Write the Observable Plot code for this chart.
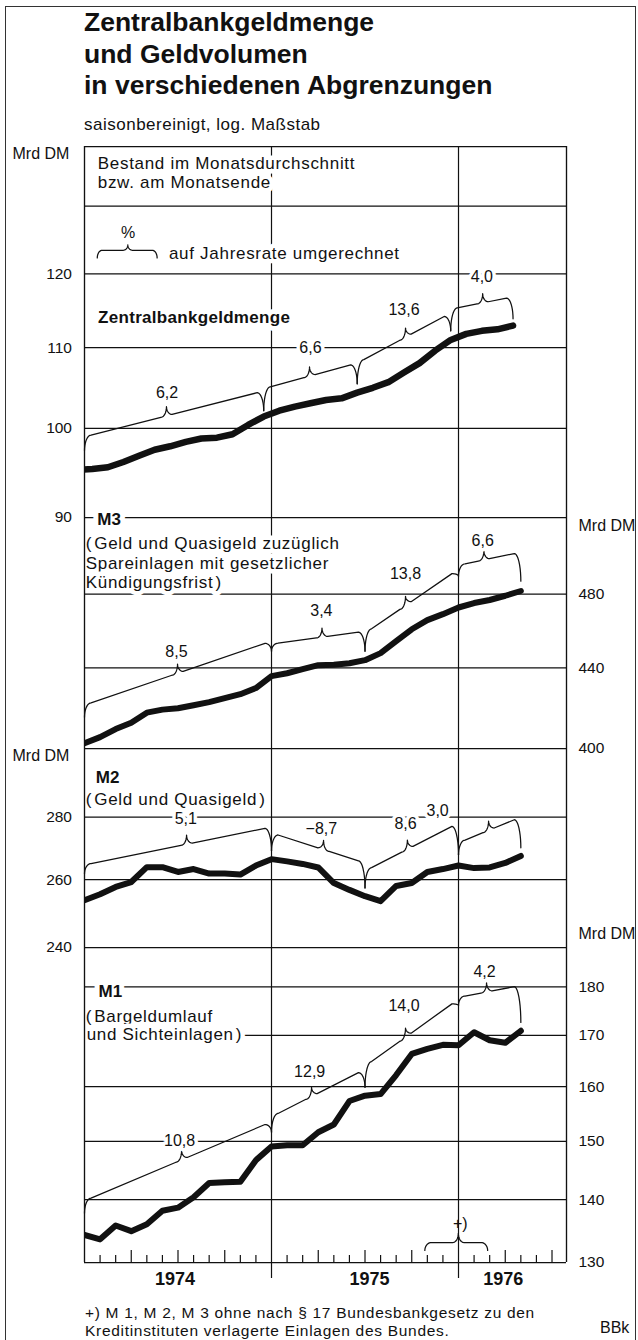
<!DOCTYPE html>
<html><head><meta charset="utf-8">
<script src="https://cdn.jsdelivr.net/npm/d3@7"></script>
<script src="https://cdn.jsdelivr.net/npm/@observablehq/plot@0.6"></script>
<style>
html,body{margin:0;padding:0;background:#fff;}
#wrap{position:relative;width:638px;height:1340px;overflow:hidden;font-family:"Liberation Sans",Arial,Helvetica,sans-serif;color:#111;}
#frame{position:absolute;left:5px;top:6px;width:629px;height:1400px;border-left:1.5px solid #333;border-top:1.5px solid #333;border-right:1.5px solid #333;}
.txt{position:absolute;white-space:nowrap;}
#title{left:84px;top:7px;font-weight:bold;font-size:26.5px;line-height:31.7px;}
#subtitle{left:84px;top:115px;font-size:17px;line-height:20px;letter-spacing:0.5px;}
#foot{left:85px;top:1304px;font-size:15.5px;line-height:18.4px;letter-spacing:0.7px;}
#bbk{left:600px;top:1319px;font-size:16px;line-height:18px;}
</style></head>
<body>
<div id="wrap">
  <div id="frame"></div>
  <div id="title" class="txt">Zentralbankgeldmenge<br>und Geldvolumen<br>in verschiedenen Abgrenzungen</div>
  <div id="subtitle" class="txt">saisonbereinigt, log. Maßstab</div>
  <div id="foot" class="txt">+) M 1, M 2, M 3 ohne nach § 17 Bundesbankgesetz zu den<br>Kreditinstituten verlagerte Einlagen des Bundes.</div>
  <div id="bbk" class="txt">BBk</div>
</div>
<script>
// ---------------- data (Mrd DM), Dec 1973 .. Apr 1976 ----------------
const months = d3.utcMonths(new Date(Date.UTC(1973, 11, 1)), new Date(Date.UTC(1976, 4, 1))).map(d3.utcFormat("%Y-%m"));
// Zentralbankgeldmenge: monthly averages (plotted mid-month)
const zbg = [95.2, 95.3, 95.5, 96.1, 96.8, 97.5, 97.9, 98.4, 98.8, 98.9, 99.3, 100.4, 101.4,
             102.1, 102.6, 103.0, 103.4, 103.6, 104.3, 104.9, 105.6, 106.8, 108.0, 109.6, 111.0,
             111.8, 112.2, 112.4, 112.9];
// M3, M2, M1: month-end stocks
const m3 = [402.5, 405.4, 409.3, 412.4, 417.3, 418.8, 419.5, 421.0, 422.5, 424.5, 426.5, 429.6, 435.7,
            437.2, 439.3, 441.4, 441.6, 442.4, 444.0, 447.7, 454.1, 460.5, 465.5, 468.8, 472.5,
            475.0, 476.7, 479.1, 481.8];
const m2 = [253.8, 255.6, 257.8, 259.3, 263.9, 263.9, 262.4, 263.3, 261.9, 261.9, 261.6, 264.4, 266.4,
            265.7, 264.9, 263.8, 259.0, 256.9, 255.0, 253.5, 258.1, 259.0, 262.4, 263.3, 264.4,
            263.6, 263.8, 265.2, 267.4];
const m1 = [134.3, 133.6, 135.8, 134.9, 136.0, 138.2, 138.7, 140.4, 142.8, 142.9, 143.0, 146.7, 149.1,
            149.3, 149.3, 151.6, 153.0, 157.3, 158.3, 158.6, 162.2, 166.3, 167.3, 168.1, 168.0,
            170.6, 169.0, 168.5, 170.9];
// growth periods and annualised rates (%)
const periods = ["1973-12", "1974-12", "1975-06", "1975-12", "1976-04"];
const zbgRates = ["6,2", "6,6", "13,6", "4,0"];
const m3Rates = ["8,5", "3,4", "13,8", "6,6"];
const m2Rates = ["5,1", "−8,7", "8,6", "3,0"];
const m1Rates = ["10,8", "12,9", "14,0", "4,2"];
// tick labels / grid values
const zbgTicks = [120, 110, 100, 90], zbgGrid = [130, 120, 110, 100, 90];
const m3Ticks = [480, 440, 400], m3Grid = [480, 440, 400];
const m2Ticks = [280, 260, 240], m2Grid = [280, 260, 240];
const m1Ticks = [180, 170, 160, 150, 140, 130], m1Grid = [180, 170, 160, 150, 140, 130];
const years = ["1974", "1975", "1976"];

// ---------------- annotation layout (data units) ----------------
// brace levels per period: [tip at start, line at start, line at end, tip at end, cusp month]
const zbgBraceLevels = [[97.4, 99.0, 104.5, 102.1, 5.26], [102.1, 104.8, 108.0, 105.4, 14.44],
                        [105.4, 108.0, 114.6, 112.2, 20.6], [112.2, 115.1, 116.8, 113.8, 25.55]];
const zbgLabelPos = [[5.3, 104.3], [14.5, 110], [20.5, 115.0], [25.5, 119.6]];
const m3BraceLevels = [[415.1, 421.0, 454.1, 448.7, 5.97], [448.7, 452.5, 459.4, 448.7, 15.24],
                       [448.7, 458.3, 494.4, 490.3, 20.6], [490.3, 496.7, 504.4, 487.4, 25.63]];
const m3LabelPos = [[5.9, 448.6], [15.2, 470.8], [20.6, 491.7], [25.55, 511.3]];
const m2BraceLevels = [[261.8, 264.6, 276.7, 269.0, 6.55], [269.0, 274.8, 265.2, 257.5, 15.34],
                       [257.5, 262.7, 278.0, 267.7, 20.72], [267.7, 271.6, 280.0, 270.0, 25.93]];
const m2LabelPos = [[6.5, 279.5], [15.2, 276.2], [20.6, 277.9], [22.66, 282.1]];
const m1BraceLevels = [[137.8, 139.8, 153.5, 151.6, 6.23], [151.6, 154.4, 163.3, 159.9, 14.57],
                       [159.9, 163.9, 177.4, 176.1, 20.6], [176.1, 177.8, 180.3, 172.6, 25.8]];
const m1LabelPos = [[6.1, 150], [14.45, 162.8], [20.5, 176.1], [25.67, 183.3]];

// ---------------- helpers ----------------
const INK = "#111";
const FONT = "Liberation Sans, Arial, Helvetica, sans-serif";
const X_END = 30.93;               // end of July 1976, months since Jan 1974
const DEC = 1950;                  // log-scale resolution used for small offsets
const pos = (ym, off) => { const [Y, M] = ym.split("-").map(Number); return (Y - 1974) * 12 + (M - 1) + off; };
const rows = (vals, off) => months.map((d, i) => ({m: pos(d, off), v: vals[i]}));
const L10 = Math.log10;

function bracePoints(id, m1_, m2_, t1, T1, T2, t2, mc, o = {}) {
  const w = o.w ?? 0.42, wc = o.wc ?? 0.36, ch = o.ch ?? 0.0047, n = 10, H = Math.PI / 2;
  const lt1 = L10(t1), lT1 = L10(T1), lT2 = L10(T2), lt2 = L10(t2);
  const main = m => lT1 + (lT2 - lT1) * (m - m1_) / (m2_ - m1_);
  const lc = main(mc) + ch;
  const p = [];
  for (let i = 0; i <= n; i++) { const a = i / n * H; p.push([m1_ + w * (1 - Math.cos(a)), lt1 + (main(m1_ + w) - lt1) * Math.sin(a)]); }
  for (let i = 0; i <= n; i++) { const a = i / n * H, l0 = main(mc - wc); p.push([mc - wc + wc * Math.sin(a), l0 + (lc - l0) * (1 - Math.cos(a))]); }
  for (let i = n; i >= 0; i--) { const a = i / n * H, l0 = main(mc + wc); p.push([mc + wc - wc * Math.sin(a), l0 + (lc - l0) * (1 - Math.cos(a))]); }
  for (let i = n; i >= 0; i--) { const a = i / n * H; p.push([m2_ - w * (1 - Math.cos(a)), lt2 + (main(m2_ - w) - lt2) * Math.sin(a)]); }
  return p.map(([m, l]) => ({id, m, v: 10 ** l}));
}
function seriesBraces(name, levels, off) {
  return levels.flatMap((b, i) => bracePoints(name + i, Math.max(0, pos(periods[i], off)), pos(periods[i + 1], off), b[0], b[1], b[2], b[3], b[4]));
}
function rateLabels(rates, lp) { return rates.map((t, i) => ({t, m: lp[i][0], v: lp[i][1]})); }

const halo = (w) => ({stroke: "white", strokeWidth: w, strokeLinejoin: "round", paintOrder: "stroke", fill: INK});
const grid = (g) => Plot.ruleY(g, {stroke: INK, strokeWidth: 1.25});
const sides = () => Plot.ruleX([0, X_END], {stroke: INK, strokeWidth: 1.35});
const braceMark = (data) => Plot.line(data, {x: "m", y: "v", z: "id", stroke: INK, strokeWidth: 1.25, strokeLinejoin: "round"});
const seriesMark = (data, sw) => Plot.line(data, {x: "m", y: "v", stroke: INK, strokeWidth: sw, strokeLinejoin: "round", clip: true});
const rateMark = (data) => Plot.text(data, {x: "m", y: "v", text: "t", fontSize: 16, ...halo(7)});
const leftTicks = (t) => Plot.text(t, {y: d => d, text: d => String(d), frameAnchor: "left", dx: -12.5, textAnchor: "end", fontSize: 15.5, fill: INK});
const rightTicks = (t) => Plot.text(t, {y: d => d, text: d => String(d), frameAnchor: "right", dx: 12, textAnchor: "start", fontSize: 15.5, fill: INK});
const unitLeft = (v) => Plot.text([v], {y: d => d, text: () => "Mrd DM", frameAnchor: "left", dx: -72, textAnchor: "start", fontSize: 16, fill: INK});
const unitRight = (v) => Plot.text([v], {y: d => d, text: () => "Mrd DM", frameAnchor: "right", dx: 12, textAnchor: "start", fontSize: 16, fill: INK});
const desc = (lines) => Plot.text(lines, {x: "m", y: "v", text: "t", textAnchor: "start", fontSize: 17, ...halo(9)});
const bold = (lines) => Plot.text(lines, {x: "m", y: "v", text: "t", textAnchor: "start", fontSize: 17, fontWeight: "bold", ...halo(10)});

// wide setting of the original typeface
const spaced = new Set();
const HS = "\u200A";
const wrap = document.getElementById("wrap");
function panel(top, height, domain, marks) {
  const svg = Plot.plot({
    width: 638, height, marginLeft: 84, marginRight: 72, marginTop: 0, marginBottom: 0,
    x: {domain: [0, X_END], axis: null},
    y: {type: "log", domain, axis: null},
    style: {background: "transparent", overflow: "visible", fontFamily: FONT, color: INK},
    marks
  });
  svg.style.position = "absolute"; svg.style.left = "0px"; svg.style.top = top + "px";
  svg.querySelectorAll("text").forEach(t => {
    if (spaced.has(t.textContent)) t.style.letterSpacing = "0.7px";
    if (t.textContent === "Zentralbankgeldmenge") t.style.letterSpacing = "0.3px";
  });
  wrap.appendChild(svg);
}
const descLines = (arr) => { arr.forEach(d => spaced.add(d.t)); return desc(arr); };

// ---------------- Zentralbankgeldmenge ----------------
panel(146, 371, [90, 139.49], [
  grid([139.49, ...zbgGrid]),
  Plot.ruleX([12, 24], {stroke: INK, strokeWidth: 1.2}),
  descLines([{t: "Bestand im Monatsdurchschnitt", m: 0.85, v: 136.7}, {t: "bzw. am Monatsende", m: 0.85, v: 133.6},
             {t: "auf Jahresrate umgerechnet", m: 5.42, v: 122.9}]),
  Plot.text([{t: "%", m: 2.8, v: 125.9}], {x: "m", y: "v", text: "t", fontSize: 16, fill: INK}),
  braceMark(bracePoints("legend", 0.82, 4.66, 122.3, 123.4, 123.4, 122.3, 2.78, {w: 0.32, wc: 0.3, ch: 0.0028})),
  braceMark(seriesBraces("zbg", zbgBraceLevels, 0.5)),
  seriesMark(rows(zbg, 0.5), 6.5),
  rateMark(rateLabels(zbgRates, zbgLabelPos)),
  bold([{t: "Zentralbankgeldmenge", m: 0.87, v: 114.0}]),
  leftTicks(zbgTicks),
  unitLeft(138.2),
  sides()
]);

// ---------------- M3 ----------------
panel(517, 231, [400, 525.5], [
  grid(m3Grid),
  Plot.ruleX([12, 24], {stroke: INK, strokeWidth: 1.2}),
  braceMark(seriesBraces("m3", m3BraceLevels, 1)),
  seriesMark(rows(m3, 1), 6),
  rateMark(rateLabels(m3Rates, m3LabelPos)),
  descLines([{t: "(" + HS + "Geld und Quasigeld zuzüglich", m: 0.08, v: 509.3}, {t: "Spareinlagen mit gesetzlicher", m: 0.08, v: 497.4},
             {t: "Kündigungsfrist" + HS + ")", m: 0.08, v: 486.7}]),
  bold([{t: "M3", m: 0.82, v: 524.1}]),
  rightTicks(m3Ticks),
  unitRight(520.6),
  sides()
]);

// ---------------- M2 ----------------
panel(748, 199, [240, 303.6], [
  grid(m2Grid),
  Plot.ruleX([12, 24], {stroke: INK, strokeWidth: 1.2}),
  braceMark(seriesBraces("m2", m2BraceLevels, 1)),
  seriesMark(rows(m2, 1), 6),
  rateMark(rateLabels(m2Rates, m2LabelPos)),
  descLines([{t: "(" + HS + "Geld und Quasigeld" + HS + ")", m: 0.08, v: 285.7}]),
  bold([{t: "M2", m: 0.72, v: 293.4}]),
  leftTicks(m2Ticks),
  unitLeft(301.1),
  sides()
]);

// ---------------- M1 ----------------
const monthTicks = d3.range(1, 31).filter(m => m % 12 !== 0);
const quarterTicks = monthTicks.filter(m => m % 3 === 0);
const otherTicks = monthTicks.filter(m => m % 3 !== 0);
const yearLabels = years.map((t, i) => ({t, m: [5.81, 18.29, 26.87][i]}));
panel(947, 315, [130, 188.56], [
  grid(m1Grid),
  Plot.ruleX([12, 24], {y1: 130 / 10 ** (16 / DEC), y2: 188.56, stroke: INK, strokeWidth: 1.2}),
  Plot.ruleX(otherTicks, {y1: 130, y2: 130 * 10 ** (7 / DEC), stroke: INK, strokeWidth: 1.2}),
  Plot.ruleX(quarterTicks, {y1: 130, y2: 130 * 10 ** (12 / DEC), stroke: INK, strokeWidth: 1.2}),
  braceMark(seriesBraces("m1", m1BraceLevels, 1)),
  braceMark(bracePoints("plus", 21.84, 25.87, 131.86, 133.1, 133.1, 131.86, 23.99)),
  Plot.text([{t: "+)", m: 24.11, v: 136.1}], {x: "m", y: "v", text: "t", fontSize: 16, fill: INK}),
  seriesMark(rows(m1, 1), 6),
  rateMark(rateLabels(m1Rates, m1LabelPos)),
  descLines([{t: "(" + HS + "Bargeldumlauf", m: 0.08, v: 173.7}, {t: "und Sichteinlagen" + HS + ")", m: 0.14, v: 170.2}]),
  bold([{t: "M1", m: 0.9, v: 178.9}]),
  Plot.text(yearLabels, {x: "m", text: "t", frameAnchor: "bottom", dy: 22, fontSize: 18, fontWeight: "bold", fill: INK}),
  rightTicks(m1Ticks),
  unitRight(191.7),
  sides()
]);
</script>
</body></html>
